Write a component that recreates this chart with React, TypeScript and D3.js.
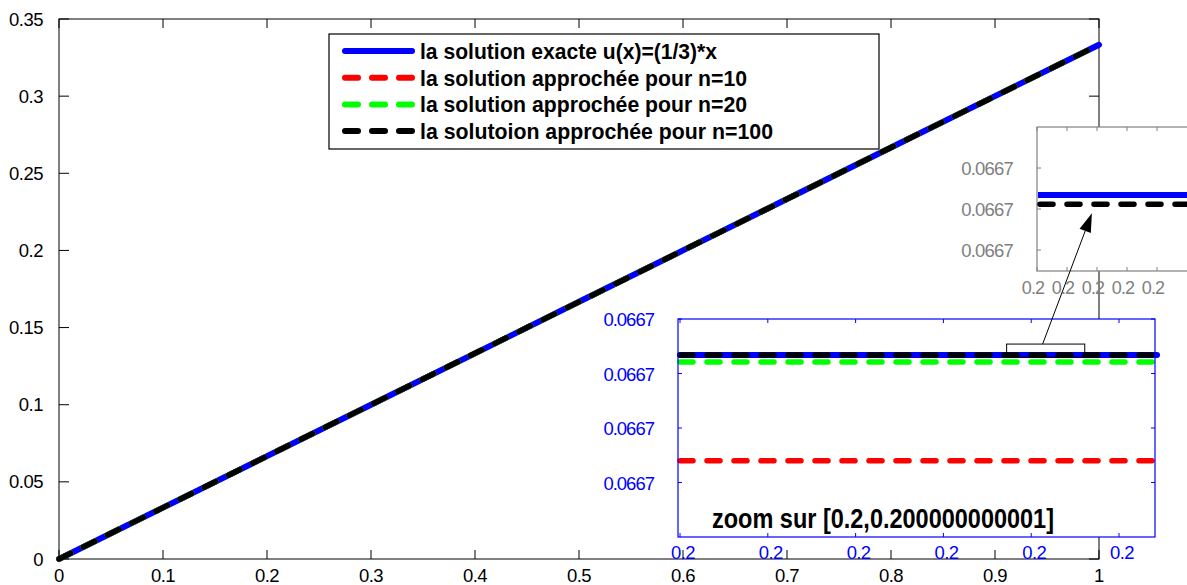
import * as d3 from "d3";

// main plot data: u(x) = x/3 and the three approximations (indistinguishable at this scale)
const xValues = [0, 0.1, 0.2, 0.3, 0.4, 0.5, 0.6, 0.7, 0.8, 0.9, 1];
const exact = [0, 0.0333, 0.0667, 0.1, 0.1333, 0.1667, 0.2, 0.2333, 0.2667, 0.3, 0.3333];
const approx10 = [0, 0.0333, 0.0667, 0.1, 0.1333, 0.1667, 0.2, 0.2333, 0.2667, 0.3, 0.3333];
const approx20 = [0, 0.0333, 0.0667, 0.1, 0.1333, 0.1667, 0.2, 0.2333, 0.2667, 0.3, 0.3333];
const approx100 = [0, 0.0333, 0.0667, 0.1, 0.1333, 0.1667, 0.2, 0.2333, 0.2667, 0.3, 0.3333];

const xTicks = [0, 0.1, 0.2, 0.3, 0.4, 0.5, 0.6, 0.7, 0.8, 0.9, 1];
const yTicks = [0, 0.05, 0.1, 0.15, 0.2, 0.25, 0.3, 0.35];

const legendLabels = [
  "la solution exacte u(x)=(1/3)*x",
  "la solution approchée pour n=10",
  "la solution approchée pour n=20",
  "la solutoion approchée pour n=100",
];

// zoom inset (blue) – values in tick units, every tick reads 0.2 / 0.0667
const zoomXTicks = [0, 1, 2, 3, 4, 5];
const zoomYTicks = [1, 2, 3, 4];
const zoomExact = 3.34;
const zoomN10 = 1.4;
const zoomN20 = 3.21;
const zoomN100 = 3.34;
const zoomRectX = [3.72, 4.61];
const zoomRectY = [3.3, 3.54];

// second zoom inset (grey)
const zoom2XTicks = [0, 1, 2, 3, 4];
const zoom2YTicks = [1, 2, 3];
const zoom2Exact = 2.34;
const zoom2N100 = 2.12;
const arrowFrom = [4.13, 3.54];
const arrowTo = [1.83, 1.9];

const FONT = "'Liberation Sans', Arial, sans-serif";
const BLUE = "#0000ff";
const RED = "#ff0000";
const GREEN = "#00ff00";
const GREY = "#808080";
const DASH = "13 14";

export default function App() {
  const width = 1187;
  const height = 585;

  const x = d3.scaleLinear().domain([0, 1]).range([59, 1099]);
  const y = d3.scaleLinear().domain([0, 0.35]).range([559, 19]);

  const line = d3
    .line<number>()
    .x((_, i) => x(xValues[i]))
    .y((d) => y(d));

  const series = [
    { values: exact, color: BLUE, dash: undefined },
    { values: approx10, color: RED, dash: DASH },
    { values: approx20, color: GREEN, dash: DASH },
    { values: approx100, color: "#000", dash: DASH },
  ];

  // inset 1 (blue axes)
  const zx = d3.scaleLinear().domain([-0.023, 5.41]).range([678, 1155]);
  const zy = d3.scaleLinear().domain([0, 4]).range([537, 319]);
  const zoomLines = [
    { v: zoomExact, color: BLUE, dash: undefined },
    { v: zoomN10, color: RED, dash: DASH },
    { v: zoomN20, color: GREEN, dash: DASH },
    { v: zoomN100, color: "#000", dash: DASH },
  ];

  // inset 2 (grey axes)
  const gx = d3.scaleLinear().domain([0, 5.3]).range([1037, 1196]);
  const gy = d3.scaleLinear().domain([0.49, 4]).range([271, 127]);

  const ax0 = zx(arrowFrom[0]);
  const ay0 = zy(arrowFrom[1]);
  const ax1 = gx(arrowTo[0]);
  const ay1 = gy(arrowTo[1]);
  const ang = Math.atan2(ay1 - ay0, ax1 - ax0);
  const headLen = 19;
  const headHalf = 6;
  const bx = ax1 - headLen * Math.cos(ang);
  const by = ay1 - headLen * Math.sin(ang);
  const head = [
    [ax1, ay1],
    [bx + headHalf * Math.sin(ang), by - headHalf * Math.cos(ang)],
    [bx - headHalf * Math.sin(ang), by + headHalf * Math.cos(ang)],
  ];

  const [x0, x1] = x.range();
  const [y0, y1] = y.range();

  return (
    <svg
      width={width}
      height={height}
      style={{ position: "absolute", left: 0, top: 0, background: "#fff" }}
      fontFamily={FONT}
    >
      {/* main axes */}
      <rect x={x0} y={y1} width={x1 - x0} height={y0 - y1} fill="#fff" stroke="#000" strokeWidth={1} />
      {xTicks.map((t) => (
        <g key={"xt" + t}>
          <line x1={x(t)} x2={x(t)} y1={y0} y2={y0 - 9} stroke="#000" />
          <line x1={x(t)} x2={x(t)} y1={y1} y2={y1 + 9} stroke="#000" />
          <text x={x(t)} y={582} fontSize={18.5} textAnchor="middle" letterSpacing={-0.5}>
            {d3.format("~g")(t)}
          </text>
        </g>
      ))}
      {yTicks.map((t) => (
        <g key={"yt" + t}>
          <line x1={x0} x2={x0 + 10} y1={y(t)} y2={y(t)} stroke="#000" />
          <line x1={x1} x2={x1 - 10} y1={y(t)} y2={y(t)} stroke="#000" />
          <text x={43} y={y(t) + 6.5} fontSize={18.5} textAnchor="end" letterSpacing={-0.5}>
            {d3.format("~g")(t)}
          </text>
        </g>
      ))}

      {series.map((s, i) => (
        <path
          key={"s" + i}
          d={line(s.values) ?? ""}
          fill="none"
          stroke={s.color}
          strokeWidth={s.dash ? 5.5 : 6}
          strokeDasharray={s.dash}
          strokeLinecap="round"
        />
      ))}

      {/* legend */}
      <rect x={329} y={34} width={550} height={115} fill="#fff" stroke="#000" strokeWidth={1.2} />
      {legendLabels.map((lab, i) => {
        const cy = 51 + i * 26.7;
        const s = series[i];
        const widths = [297, 327, 327, 353];
        return (
          <g key={"lg" + i}>
            <line
              x1={345}
              x2={412}
              y1={cy}
              y2={cy}
              stroke={s.color}
              strokeWidth={6}
              strokeDasharray={s.dash}
              strokeLinecap="round"
            />
            <text
              x={420}
              y={cy + 8}
              fontSize={22}
              fontWeight="bold"
              textLength={widths[i]}
              lengthAdjust="spacingAndGlyphs"
            >
              {lab}
            </text>
          </g>
        );
      })}

      {/* zoom inset (blue) */}
      <rect x={zx.range()[0]} y={zy.range()[1]} width={zx.range()[1] - zx.range()[0]} height={zy.range()[0] - zy.range()[1]} fill="#fff" />
      {zoomLines.map((l, i) => (
        <line
          key={"zl" + i}
          x1={zx.range()[0] + 2}
          x2={zx.range()[1] + 2}
          y1={zy(l.v)}
          y2={zy(l.v)}
          stroke={l.color}
          strokeWidth={l.dash ? 5.5 : 6}
          strokeDasharray={l.dash}
          strokeLinecap="round"
        />
      ))}
      <rect
        x={zx(zoomRectX[0])}
        y={zy(zoomRectY[1])}
        width={zx(zoomRectX[1]) - zx(zoomRectX[0])}
        height={zy(zoomRectY[0]) - zy(zoomRectY[1])}
        fill="none"
        stroke="#000"
        strokeWidth={1}
      />
      <rect x={zx.range()[0]} y={zy.range()[1]} width={zx.range()[1] - zx.range()[0]} height={zy.range()[0] - zy.range()[1]} fill="none" stroke={BLUE} strokeWidth={1.2} />
      {zoomXTicks.map((t) => (
        <g key={"zxt" + t}>
          <line x1={zx(t)} x2={zx(t)} y1={zy.range()[0]} y2={zy.range()[0] - 4} stroke={BLUE} />
          <line x1={zx(t)} x2={zx(t)} y1={zy.range()[1]} y2={zy.range()[1] + 4} stroke={BLUE} />
          <text x={zx(t) + 3} y={559} fontSize={18.5} fill={BLUE} textAnchor="middle" letterSpacing={-0.6}>
            0.2
          </text>
        </g>
      ))}
      {zoomYTicks.map((t) => (
        <g key={"zyt" + t}>
          <line x1={zx.range()[0]} x2={zx.range()[0] + 4} y1={zy(t)} y2={zy(t)} stroke={BLUE} />
          <line x1={zx.range()[1]} x2={zx.range()[1] - 4} y1={zy(t)} y2={zy(t)} stroke={BLUE} />
          <text x={654} y={zy(t) + 7} fontSize={18.5} fill={BLUE} textAnchor="end" letterSpacing={-1}>
            0.0667
          </text>
        </g>
      ))}
      <text x={712} y={528} fontSize={27} fontWeight="bold" textLength={342} lengthAdjust="spacingAndGlyphs">
        zoom sur [0.2,0.200000000001]
      </text>

      {/* second inset (grey) */}
      <rect x={gx.range()[0]} y={gy.range()[1]} width={gx.range()[1] - gx.range()[0]} height={gy.range()[0] - gy.range()[1]} fill="#fff" stroke={GREY} strokeWidth={1.2} />
      <line x1={gx.range()[0] + 1} x2={gx.range()[1]} y1={gy(zoom2Exact)} y2={gy(zoom2Exact)} stroke={BLUE} strokeWidth={6} />
      <line
        x1={gx.range()[0] + 3}
        x2={gx.range()[1]}
        y1={gy(zoom2N100)}
        y2={gy(zoom2N100)}
        stroke="#000"
        strokeWidth={5.5}
        strokeDasharray={DASH}
        strokeLinecap="round"
      />
      {zoom2XTicks.map((t) => (
        <g key={"gxt" + t}>
          <line x1={gx(t)} x2={gx(t)} y1={gy.range()[0]} y2={gy.range()[0] - 4} stroke={GREY} />
          <line x1={gx(t)} x2={gx(t)} y1={gy.range()[1]} y2={gy.range()[1] + 4} stroke={GREY} />
          <text x={gx(t) - 4} y={294} fontSize={18} fill={GREY} textAnchor="middle" letterSpacing={-0.8}>
            0.2
          </text>
        </g>
      ))}
      {zoom2YTicks.map((t) => (
        <g key={"gyt" + t}>
          <line x1={gx.range()[0]} x2={gx.range()[0] + 4} y1={gy(t)} y2={gy(t)} stroke={GREY} />
          <text x={1013} y={gy(t) + 7} fontSize={18.5} fill={GREY} textAnchor="end" letterSpacing={-0.8}>
            0.0667
          </text>
        </g>
      ))}

      {/* arrow from the small box to the grey inset */}
      <line x1={ax0} y1={ay0} x2={bx} y2={by} stroke="#000" strokeWidth={1} />
      <path d={d3.line()(head as [number, number][]) + "Z"} fill="#000" />
    </svg>
  );
}
